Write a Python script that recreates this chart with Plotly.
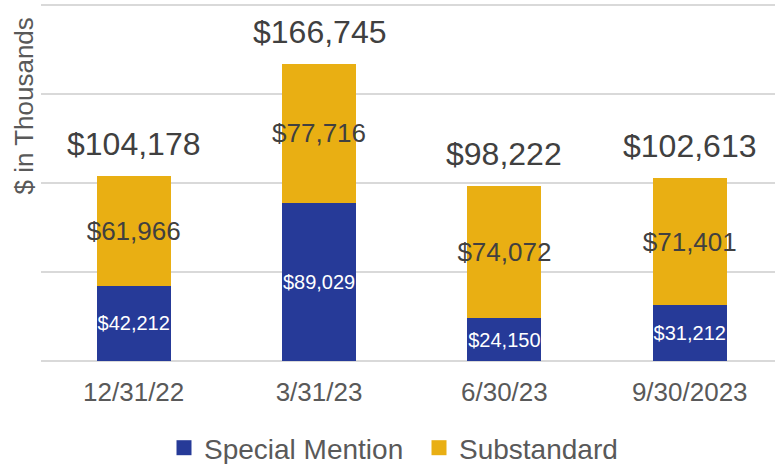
import plotly.graph_objects as go

categories = ["12/31/22", "3/31/23", "6/30/23", "9/30/2023"]
special_mention = [42212, 89029, 24150, 31212]
substandard = [61966, 77716, 74072, 71401]
totals = [104178, 166745, 98222, 102613]

BLUE = "#263A98"
GOLD = "#E9AF13"
FONT = "Liberation Sans, Arial, sans-serif"

def fmt(v):
    return "${:,}".format(v)

fig = go.Figure()
fig.add_trace(go.Bar(
    x=categories, y=special_mention, name="Special Mention",
    marker=dict(color=BLUE, line=dict(width=0)),
    text=[fmt(v) for v in special_mention], textposition="inside",
    insidetextanchor="middle", textangle=0, constraintext="none",
    textfont=dict(color="white", size=20, family=FONT),
    width=0.4, showlegend=False,
))
fig.add_trace(go.Bar(
    x=categories, y=substandard, name="Substandard",
    marker=dict(color=GOLD, line=dict(width=0)),
    text=[fmt(v) for v in substandard], textposition="inside",
    insidetextanchor="middle", textangle=0, constraintext="none",
    textfont=dict(color="#404040", size=26, family=FONT),
    width=0.4, cliponaxis=False, showlegend=False,
))
# legend entries with larger square swatches
for name, col in [("Special Mention", BLUE), ("Substandard", GOLD)]:
    fig.add_trace(go.Scatter(x=[None], y=[None], mode="markers", name=name,
                             marker=dict(symbol="square", size=15, color=col)))

for c, t in zip(categories, totals):
    fig.add_annotation(x=c, y=t, text=fmt(t), showarrow=False,
                       yanchor="bottom", yshift=12,
                       font=dict(size=32, color="#404040", family=FONT))

fig.add_annotation(xref="paper", yref="paper", x=0, y=1, xanchor="center",
                   yanchor="top", xshift=-18, yshift=-12, textangle=-90,
                   text="$ in Thousands", showarrow=False,
                   font=dict(size=26, color="#595959", family=FONT))

fig.update_layout(
    width=775, height=464,
    barmode="stack",
    plot_bgcolor="white", paper_bgcolor="white",
    margin=dict(l=41, r=0, t=4, b=103),
    font=dict(family=FONT, color="#595959"),
    xaxis=dict(range=[-0.5, 3.46], showline=False, showgrid=False, automargin=False,
               tickfont=dict(size=26, color="#595959"), ticks="",
               ticklabelstandoff=13),
    yaxis=dict(range=[0, 200600], tickvals=[0, 50000, 100000, 150000, 200000],
               showticklabels=False, automargin=False,
               showgrid=True, gridcolor="#D9D9D9", gridwidth=1.5,
               zeroline=True, zerolinecolor="#D9D9D9", zerolinewidth=1.5),
    legend=dict(orientation="h", x=164 / 775, xanchor="left", xref="container",
                y=1 - 448 / 464, yanchor="middle", yref="container",
                font=dict(size=28, color="#595959"),
                entrywidth=210, entrywidthmode="pixels",
                traceorder="normal", itemsizing="trace"),
    showlegend=True,
)

fig.write_html("out.html", config={"displayModeBar": False},
               post_script="document.body.style.margin='0px';")
